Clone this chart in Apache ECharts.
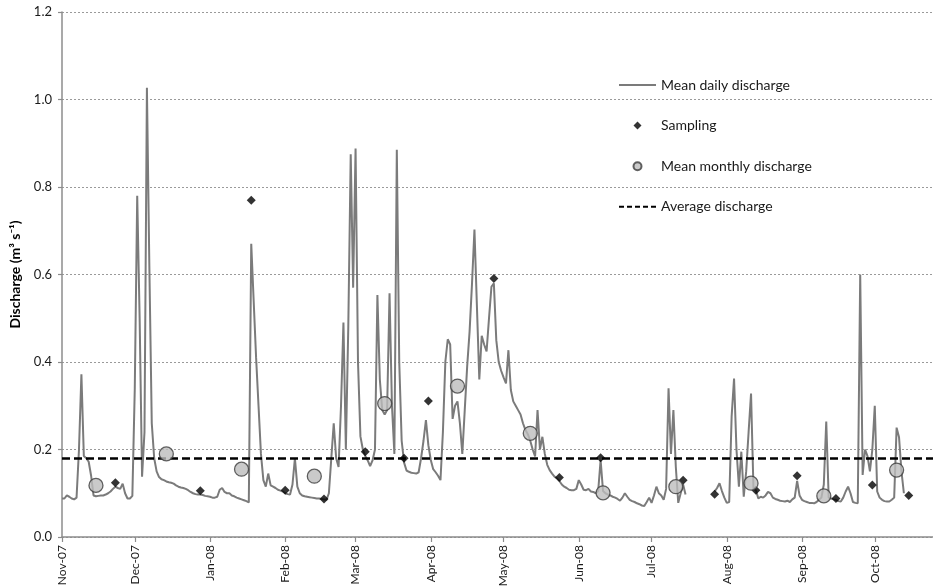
<!DOCTYPE html>
<html>
<head>
<meta charset="utf-8">
<script src="https://cdn.jsdelivr.net/npm/echarts@6/dist/echarts.min.js"></script>
<style>
html, body { margin: 0; padding: 0; background: #ffffff; }
#chart { width: 933px; height: 588px; }
</style>
</head>
<body>
<div id="chart"></div>
<script>
// Hydrological year Nov 2007 – Oct 2008; x values are days since the first date.
const startDate = '2007-11-01';
const endDate = '2008-10-25';

const monthTicks = ['2007-11-01', '2007-12-01', '2008-01-01', '2008-02-01', '2008-03-01', '2008-04-01',
  '2008-05-01', '2008-06-01', '2008-07-01', '2008-08-01', '2008-09-01', '2008-10-01'];
const monthLabels = ['Nov-07', 'Dec-07', 'Jan-08', 'Feb-08', 'Mar-08', 'Apr-08',
  'May-08', 'Jun-08', 'Jul-08', 'Aug-08', 'Sep-08', 'Oct-08'];

// Mean daily discharge (m3 s-1), one value per day from startDate; null = missing record
const dailyDischarge = [
  // November
  0.088, 0.088, 0.095, 0.092, 0.088, 0.086, 0.09, 0.2, 0.372, 0.185,
  0.18, 0.172, 0.14, 0.095, 0.093, 0.094, 0.095, 0.095, 0.097, 0.1,
  0.104, 0.11, 0.115, 0.112, 0.11, 0.122, 0.1, 0.088, 0.088, 0.094,
  // December
  0.34, 0.78, 0.5, 0.138, 0.24, 1.027, 0.62, 0.26, 0.18, 0.15,
  0.137, 0.132, 0.13, 0.127, 0.125, 0.124, 0.122, 0.118, 0.115, 0.113,
  0.112, 0.11, 0.107, 0.103, 0.1, 0.098, 0.097, 0.097, 0.096, 0.094, 0.093,
  // January
  0.092, 0.09, 0.09, 0.092, 0.108, 0.112, 0.103, 0.1, 0.1, 0.095,
  0.093, 0.09, 0.088, 0.086, 0.084, 0.082, 0.079, 0.67, 0.54, 0.41,
  0.3, 0.19, 0.13, 0.115, 0.145, 0.118, 0.115, 0.112, 0.108, 0.106, 0.104,
  // February
  0.1, 0.098, 0.097, 0.12, 0.18, 0.115, 0.1, 0.095, 0.093, 0.092,
  0.091, 0.09, 0.089, 0.088, 0.088, 0.087, 0.086, 0.085, 0.1, 0.18,
  0.26, 0.18, 0.16, 0.3, 0.49, 0.2, 0.48, 0.875, 0.57,
  // March
  0.888, 0.4, 0.23, 0.2, 0.185, 0.175, 0.162, 0.175, 0.2, 0.553,
  0.36, 0.29, 0.28, 0.29, 0.557, 0.3, 0.19, 0.885, 0.4, 0.22,
  0.17, 0.152, 0.149, 0.147, 0.146, 0.145, 0.148, 0.18, 0.22, 0.267, 0.21,
  // April
  0.176, 0.155, 0.148, 0.14, 0.13, 0.24, 0.4, 0.452, 0.44, 0.27,
  0.3, 0.31, 0.26, 0.19, 0.29, 0.39, 0.47, 0.58, 0.703, 0.53,
  0.36, 0.46, 0.44, 0.424, 0.5, 0.572, 0.58, 0.45, 0.4, 0.38,
  // May
  0.365, 0.351, 0.427, 0.336, 0.31, 0.3, 0.29, 0.28, 0.26, 0.245,
  0.235, 0.22, 0.2, 0.184, 0.29, 0.2, 0.229, 0.19, 0.165, 0.153,
  0.145, 0.138, 0.134, 0.128, 0.12, 0.115, 0.112, 0.108, 0.107, 0.107, 0.11,
  // June
  0.13, 0.12, 0.108, 0.107, 0.11, 0.104, 0.103, 0.1, 0.105, 0.176,
  0.105, 0.1, 0.097, 0.095, 0.092, 0.09, 0.087, 0.083, 0.09, 0.1,
  0.092, 0.085, 0.082, 0.08, 0.077, 0.075, 0.072, 0.071, 0.08, 0.09,
  // July
  0.078, 0.095, 0.115, 0.1, 0.095, 0.085, 0.11, 0.34, 0.19, 0.29,
  0.16, 0.078, 0.1, 0.12, 0.097, null, null, null, null, null,
  null, null, null, null, null, null, 0.104, 0.112, 0.123, 0.105, 0.09,
  // August
  0.078, 0.08, 0.275, 0.362, 0.2, 0.115, 0.195, 0.092, 0.15, 0.24,
  0.328, 0.11, 0.107, 0.088, 0.092, 0.09, 0.095, 0.103, 0.1, 0.09,
  0.087, 0.085, 0.083, 0.082, 0.081, 0.083, 0.08, 0.086, 0.09, 0.128, 0.095,
  // September
  0.085, 0.082, 0.08, 0.078, 0.078, 0.077, 0.08, 0.085, 0.09, 0.12,
  0.264, 0.09, 0.088, 0.086, 0.085, 0.082, 0.081, 0.09, 0.104, 0.115,
  0.1, 0.08, 0.078, 0.077, 0.6, 0.142, 0.2, 0.185, 0.15, 0.2,
  // October
  0.3, 0.104, 0.09, 0.085, 0.082, 0.081, 0.081, 0.085, 0.09, 0.25,
  0.228, 0.15, 0.1
];

// Water sampling campaigns
const samplingDates = ['2007-11-23', '2007-12-28', '2008-01-18', '2008-02-01', '2008-02-17', '2008-03-05',
  '2008-03-21', '2008-03-31', '2008-04-27', '2008-05-24', '2008-06-10', '2008-07-14',
  '2008-07-27', '2008-08-13', '2008-08-30', '2008-09-15', '2008-09-30', '2008-10-15'];
const samplingValues = [0.124, 0.106, 0.77, 0.107, 0.087, 0.195,
  0.18, 0.311, 0.591, 0.136, 0.181, 0.13,
  0.098, 0.107, 0.14, 0.088, 0.119, 0.095];

// Mean monthly discharge
const monthlyDates = ['2007-11-15', '2007-12-14', '2008-01-14', '2008-02-13', '2008-03-13', '2008-04-12',
  '2008-05-12', '2008-06-11', '2008-07-11', '2008-08-11', '2008-09-10', '2008-10-10'];
const monthlyValues = [0.118, 0.19, 0.155, 0.139, 0.305, 0.345,
  0.237, 0.101, 0.115, 0.123, 0.094, 0.153];

// Average discharge over the period
const averageDischarge = 0.177;

const DAY = 86400000;
const t0 = Date.parse(startDate);
const dayIndex = s => Math.round((Date.parse(s) - t0) / DAY);

const tickDays = monthTicks.map(dayIndex);
const labelByDay = {};
tickDays.forEach((d, i) => { labelByDay[d] = monthLabels[i]; });

const dailyData = dailyDischarge.map((v, i) => [i, v]);
const samplingData = samplingDates.map((s, i) => [dayIndex(s), samplingValues[i]]);
const monthlyData = monthlyDates.map((s, i) => [dayIndex(s), monthlyValues[i]]);

const FONT = 'Lato, "Noto Sans", "DejaVu Sans", sans-serif';
const AXIS_GREY = '#8c8c8c';
const avgLine = { color: '#000000', width: 2.5, type: [8, 4] };
// line entries in the key show only their stroke, no marker
const noMarker = { opacity: 0, color: 'rgba(0,0,0,0)', borderColor: 'rgba(0,0,0,0)' };
// square diamond for the key (built-in symbols stretch to the key box)
const keyDiamond = 'path://M5,0 L10,5 L5,10 L0,5 Z';

const chart = echarts.init(document.getElementById('chart'), null, { renderer: 'canvas' });
chart.setOption({
  animation: false,
  backgroundColor: '#ffffff',
  textStyle: { fontFamily: FONT },
  grid: { left: 62, right: 0, top: 12, bottom: 51, containLabel: false, outerBoundsMode: 'none' },
  legend: {
    orient: 'vertical',
    left: 618,
    top: 77,
    padding: 0,
    itemWidth: 37,
    itemHeight: 8,
    itemGap: 24.6,
    symbolKeepAspect: true,
    selectedMode: false,
    textStyle: { fontFamily: FONT, fontSize: 14, color: '#1a1a1a', lineHeight: 16 },
    data: [
      { name: 'Mean daily discharge', itemStyle: noMarker },
      { name: 'Sampling', icon: keyDiamond },
      { name: 'Mean monthly discharge' },
      { name: 'Average discharge', itemStyle: noMarker, lineStyle: { type: [5, 3], width: 2 } }
    ]
  },
  xAxis: {
    type: 'value',
    min: 0,
    max: dayIndex(endDate),
    splitLine: { show: false },
    axisLine: { show: true, onZero: false, lineStyle: { color: AXIS_GREY, width: 1.5 } },
    axisTick: { show: true, customValues: tickDays, length: 5, lineStyle: { color: AXIS_GREY, width: 1.2 } },
    axisLabel: {
      customValues: tickDays,
      rotate: 90,
      margin: 8,
      fontFamily: FONT,
      fontSize: 12,
      color: '#1a1a1a',
      formatter: v => labelByDay[Math.round(v)] || ''
    }
  },
  yAxis: {
    type: 'value',
    min: 0,
    max: 1.2,
    interval: 0.2,
    name: 'Discharge (m³ s⁻¹)',
    nameLocation: 'middle',
    nameGap: 36,
    nameTextStyle: { fontFamily: FONT, fontSize: 14, fontWeight: 'bold', color: '#000000' },
    axisLine: { show: true, lineStyle: { color: AXIS_GREY, width: 1.5 } },
    axisTick: { show: true, length: 4, lineStyle: { color: AXIS_GREY, width: 1.2 } },
    axisLabel: {
      margin: 10,
      fontFamily: FONT,
      fontSize: 13,
      color: '#1a1a1a',
      formatter: v => v.toFixed(1)
    },
    splitLine: { show: true, lineStyle: { color: '#9a9a9a', width: 1, type: [2, 2] } }
  },
  series: [
    {
      name: 'Mean daily discharge',
      type: 'line',
      data: dailyData,
      symbol: 'none',
      connectNulls: false,
      lineStyle: { color: '#7b7b7b', width: 2 },
      itemStyle: { color: '#7b7b7b' },
      z: 2
    },
    {
      name: 'Average discharge',
      type: 'line',
      data: [],
      symbol: 'none',
      lineStyle: avgLine,
      itemStyle: { color: '#000000' },
      markLine: {
        silent: true,
        symbol: ['none', 'none'],
        label: { show: false },
        lineStyle: avgLine,
        data: [{ yAxis: averageDischarge }]
      },
      z: 3
    },
    {
      name: 'Sampling',
      type: 'scatter',
      data: samplingData,
      symbol: 'diamond',
      symbolSize: 9,
      itemStyle: { color: '#000000' },
      z: 4
    },
    {
      name: 'Mean monthly discharge',
      type: 'scatter',
      data: monthlyData,
      symbol: 'circle',
      symbolSize: 14,
      itemStyle: { color: '#bdbdbd', borderColor: '#3c3c3c', borderWidth: 1.3 },
      z: 5
    }
  ]
});
</script>
</body>
</html>
